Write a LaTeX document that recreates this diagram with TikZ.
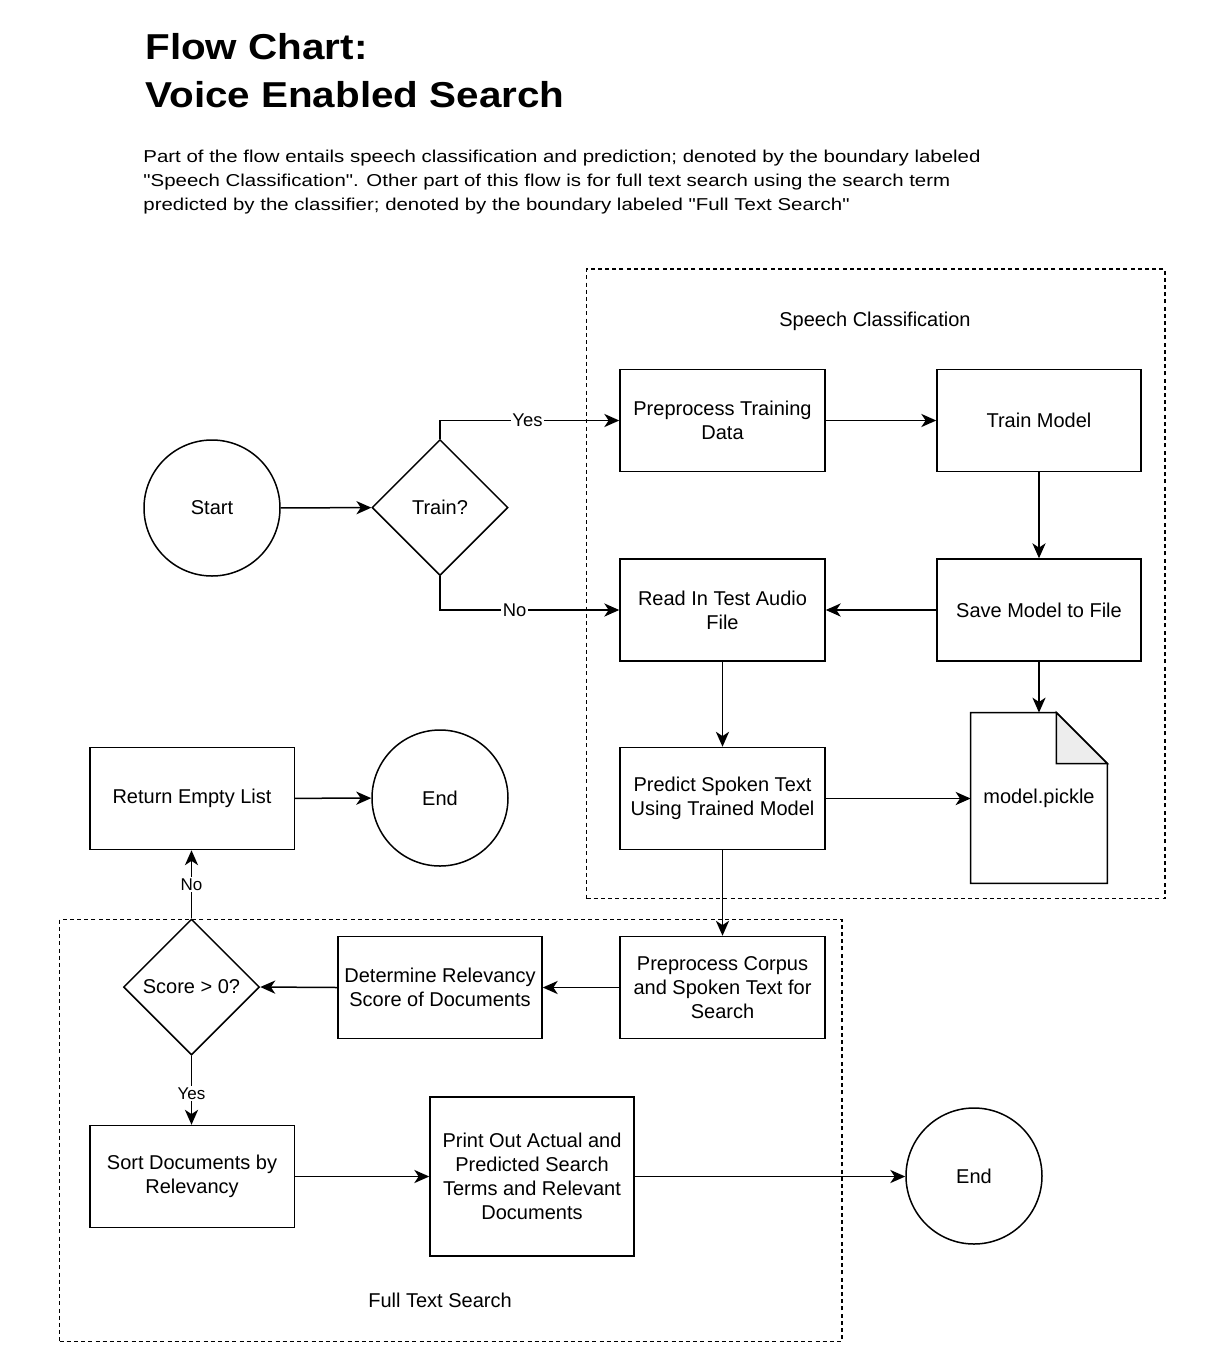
\documentclass[tikz,border=0pt]{standalone}
\usepackage{fontspec}
\setmainfont{Liberation Sans}
\newfontfamily\parafont[FakeStretch=1.188]{Liberation Sans}
\newfontfamily\titlefont[FakeStretch=1.122]{Liberation Sans}
\usetikzlibrary{shapes.geometric,arrows.meta}
\tikzset{
  proc/.style={draw, line width=0.75pt, minimum width=102pt, minimum height=51pt, inner sep=0pt, align=center, font=\fontsize{10}{12}\selectfont},
  term/.style={draw, circle, line width=0.75pt, minimum size=68pt, inner sep=0pt, font=\fontsize{10}{12}\selectfont},
  decide/.style={draw, diamond, line width=0.75pt, minimum width=68pt, minimum height=68pt, inner sep=0pt, font=\fontsize{10}{12}\selectfont},
  boundary/.style={draw, line width=0.65pt, dash pattern=on 2pt off 1.6pt, inner sep=0pt},
  lbl/.style={inner sep=0pt, font=\fontsize{10}{12}\selectfont},
  arr/.style={line width=0.75pt, -{Stealth[length=7.5pt, width=6.6pt, inset=2.2pt]}},
  elbl/.style={fill=white, inner sep=0.8pt, font=\fontsize{9.2}{11}\selectfont},
  elbltwo/.style={fill=white, inner sep=0.8pt, font=\fontsize{8.5}{10}\selectfont},
  txt/.style={anchor=base west, inner sep=0pt},
}
\begin{document}
\begin{tikzpicture}[x=0.5pt, y=-0.5pt]
\useasboundingbox[fill=white] (0,0) rectangle (1210,1350);

% title and description
\node[txt, font=\titlefont\bfseries\fontsize{18}{22}\selectfont] (t1) at (145,59.3) {Flow Chart:};
\node[txt, font=\titlefont\bfseries\fontsize{18}{22}\selectfont] (t2) at (145,107.3) {Voice Enabled Search};
\node[txt, font=\parafont\fontsize{8.6}{12}\selectfont] (p1) at (143,162.5) {Part of the flow entails speech classification and prediction; denoted by the boundary labeled};
\node[txt, font=\parafont\fontsize{8.6}{12}\selectfont] (p2) at (143,186.5) {"Speech Classification". Other part of this flow is for full text search using the search term};
\node[txt, font=\parafont\fontsize{8.6}{12}\selectfont] (p3) at (143,210.5) {predicted by the classifier; denoted by the boundary labeled "Full Text Search"};

% boundaries
\node[boundary, minimum width=289.25pt, minimum height=314.75pt] (sc) at (875.75,583.75) {};
\node[boundary, minimum width=391.25pt, minimum height=211pt] (fts) at (450.75,1130.5) {};
\node[lbl] (sclbl) at (875,321.5) {Speech Classification};
\node[lbl] (ftslbl) at (440,1300.5) {Full Text Search};

% nodes
\node[term] (start) at (212,508) {Start};
\node[decide] (trainq) at (440,507.5) {Train?};
\node[proc, minimum width=102.5pt] (pre) at (722.5,420.5) {Preprocess Training\\Data};
\node[proc] (train) at (1039,420.5) {Train Model};
\node[proc] (save) at (1039,610) {Save Model to File};
\node[proc, minimum width=102.5pt] (read) at (722.5,610) {Read In Test Audio\\File};
\node[proc, minimum width=102.5pt] (pred) at (722.5,798.5) {Predict Spoken Text\\Using Trained Model};
\node[minimum width=68pt, minimum height=85pt, inner sep=0pt] (pickle) at (1039,798) {};
\draw[line width=0.75pt, fill=white] (pickle.north west) -- ([xshift=-25.5pt]pickle.north east) -- ([yshift=-25.5pt]pickle.north east) -- (pickle.south east) -- (pickle.south west) -- cycle;
\draw[line width=0.75pt, fill=black!7] ([xshift=-25.5pt]pickle.north east) -- ([yshift=-25.5pt]pickle.north east) -- ([xshift=-25.5pt, yshift=-25.5pt]pickle.north east) -- cycle;
\node[lbl] (picklelbl) at (pickle.center) {model.pickle};

\node[proc, minimum width=102.25pt] (ret) at (192,798.5) {Return Empty List};
\node[term] (endone) at (440,798) {End};
\node[proc, minimum width=102.5pt] (corp) at (722.5,987.5) {Preprocess Corpus\\and Spoken Text for\\Search};
\node[proc] (det) at (440,987.5) {Determine Relevancy\\Score of Documents};
\node[decide] (score) at (191.5,987) {Score > 0?};
\node[proc, minimum width=102.25pt] (sort) at (192,1176.5) {Sort Documents by\\Relevancy};
\node[proc, minimum height=79.5pt] (print) at (532,1176.5) {Print Out Actual and\\Predicted Search\\Terms and Relevant\\Documents};
\node[term] (endtwo) at (974,1176) {End};

% connectors
\draw[arr] (start) -- (trainq);
\draw[arr] (trainq.north) |- node[elbl, pos=0.744] {Yes} (pre.west);
\draw[arr] (trainq.south) |- node[elbl, pos=0.708] {No} (read.west);
\draw[arr] (pre) -- (train);
\draw[arr] (train) -- (save);
\draw[arr] (save) -- (read);
\draw[arr] (save.south) -- (pickle.north);
\draw[arr] (read) -- (pred);
\draw[arr] (pred.east) -- (pred.east -| pickle.west);
\draw[arr] (pred) -- (corp);
\draw[arr] (corp) -- (det);
\draw[arr] (det.west) -- (score.east);
\draw[arr] (score.north) -- node[elbltwo] {No} (score.north |- ret.south);
\draw[arr] (score.south) -- node[elbltwo, pos=0.55] {Yes} (score.south |- sort.north);
\draw[arr] (ret) -- (endone);
\draw[arr] (sort) -- (print);
\draw[arr] (print.east) -- (print.east -| endtwo.west);
\end{tikzpicture}
\end{document}
